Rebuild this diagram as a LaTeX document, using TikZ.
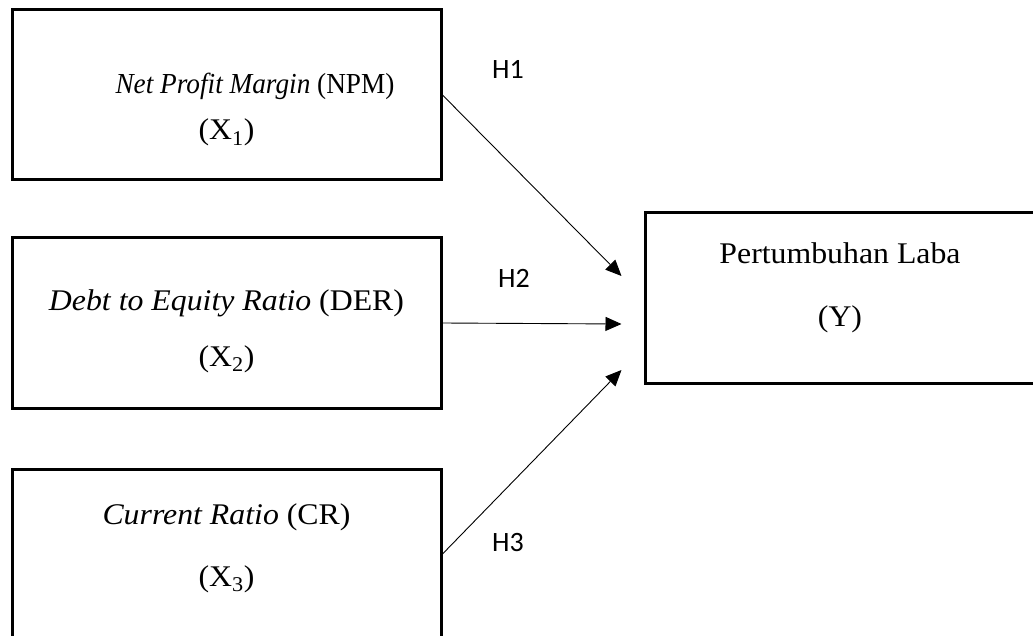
\documentclass[tikz,border=0pt]{standalone}
\usepackage{fontspec}
\setmainfont{Liberation Serif}[FakeStretch=1.06]
\newfontfamily\narrowserif{Liberation Serif}[FakeStretch=0.94]
\newfontfamily\calibri{Carlito}
\usepackage{tikz}
\usetikzlibrary{arrows.meta,positioning}

\begin{document}
\begin{tikzpicture}[x=1pt,y=-1pt,
  varbox/.style={draw,line width=3pt,minimum width=429pt,minimum height=170pt,inner sep=0pt},
  vartext/.style={anchor=base,inner sep=0pt,font=\fontsize{30}{36}\selectfont},
  link/.style={-{Triangle[length=16pt,width=14pt]},line width=0.9pt},
  hyp/.style={font=\calibri\fontsize{28}{32}\selectfont}]
  \useasboundingbox (0,0) rectangle (1033,636);
  % X variables
  \node[varbox] (npm) at (226.5,95) {};
  \node[varbox] (der) at (226.5,323) {};
  \node[varbox] (cr) at (226.5,554) {};
  % Y variable
  \node[varbox,minimum width=390pt] (laba) at (840,298) {};
  \node[vartext,font=\narrowserif\fontsize{29}{34}\selectfont] (npmname) at (255,94) {\textit{Net Profit Margin} (NPM)};
  \node[vartext] (npmsym) at (226.5,140) {(X\textsubscript{1})};
  \node[vartext] (dername) at (226.5,310) {\textit{Debt to Equity Ratio} (DER)};
  \node[vartext] (dersym) at (226.5,366) {(X\textsubscript{2})};
  \node[vartext] (crname) at (226.5,524) {\textit{Current Ratio} (CR)};
  \node[vartext] (crsym) at (226.5,586) {(X\textsubscript{3})};
  \node[vartext] (labaname) at (840,264) {Pertumbuhan Laba};
  \node[vartext] (labasym) at (840,326) {(Y)};
  % hypotheses
  \draw[link] (npm.east) -- ([xshift=-22pt,yshift=22pt]laba.west);
  \draw[link] (der.east) -- ([xshift=-22pt,yshift=-26pt]laba.west);
  \draw[link] (cr.east) -- ([xshift=-22pt,yshift=-72pt]laba.west);
  \node[hyp] (h1) at (508,69) {H1};
  \node[hyp] (h2) at (514,278) {H2};
  \node[hyp] (h3) at (508,543) {H3};
\end{tikzpicture}
\end{document}
